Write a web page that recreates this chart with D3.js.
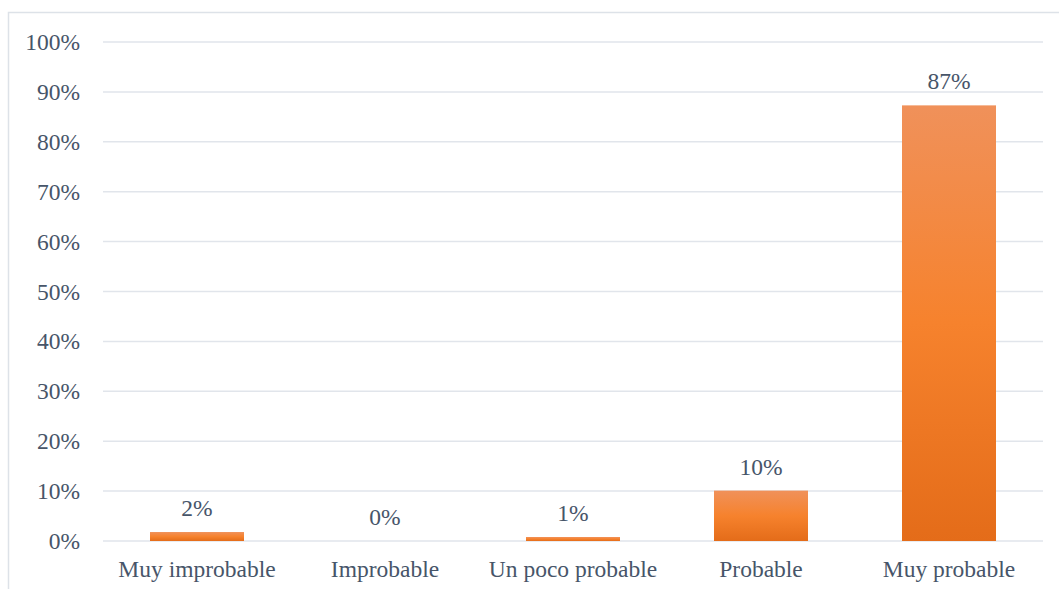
<!DOCTYPE html>
<html><head><meta charset="utf-8">
<script src="https://cdn.jsdelivr.net/npm/d3@7"></script>
<style>body{margin:0;background:#fff;}svg{display:block;}</style>
</head><body>
<svg id="chart" width="1059" height="589"></svg>
<script>
const categories = ["Muy improbable","Improbable","Un poco probable","Probable","Muy probable"];
const values = [1.8, 0, 0.8, 10.1, 87.3];
const yTicks = [0,10,20,30,40,50,60,70,80,90,100];

const svg = d3.select("#chart");
const W = 1059, H = 589;
const m = {left:103, right:16, top:42, bottom:48};
const textColor = "#475569";
const font = "'Liberation Serif', 'Times New Roman', serif";
const fs = 23.5;

// frame
svg.append("rect").attr("x",8.5).attr("y",12.5).attr("width",W+10).attr("height",H+10)
  .attr("fill","none").attr("stroke","#dde2e8").attr("stroke-width",1.5);

const x = d3.scaleBand().domain(categories).range([m.left, W-m.right]).paddingInner(0.5).paddingOuter(0.25);
const y = d3.scaleLinear().domain([0,100]).range([H-m.bottom, m.top]);

const defs = svg.append("defs");
const g = defs.append("linearGradient").attr("id","barGrad").attr("x1",0).attr("y1",0).attr("x2",0).attr("y2",1);
g.append("stop").attr("offset","0%").attr("stop-color","#f0915a");
g.append("stop").attr("offset","50%").attr("stop-color","#f6822d");
g.append("stop").attr("offset","100%").attr("stop-color","#e46c19");

// gridlines
svg.append("g").selectAll("line").data(yTicks).join("line")
  .attr("x1",m.left).attr("x2",W-m.right)
  .attr("y1",d=>y(d)).attr("y2",d=>y(d))
  .attr("stroke","#e1e5eb").attr("stroke-width",1.5);

// y axis labels
const yAxis = d3.axisLeft(y).tickValues(yTicks).tickFormat(d=>d+"%").tickSize(0).tickPadding(23);
const ya = svg.append("g").attr("transform",`translate(${m.left},0)`).call(yAxis);
ya.select(".domain").remove();
ya.selectAll("text").attr("font-family",font).attr("font-size",fs).attr("fill",textColor).attr("dy","0.32em");

// bars
svg.append("g").selectAll("rect").data(values).join("rect")
  .attr("x",(d,i)=>x(categories[i]))
  .attr("width",x.bandwidth())
  .attr("y",d=>y(d))
  .attr("height",d=>y(0)-y(d))
  .attr("fill","url(#barGrad)");

// value labels
svg.append("g").selectAll("text").data(values).join("text")
  .attr("x",(d,i)=>x(categories[i])+x.bandwidth()/2)
  .attr("y",d=>y(d)-16)
  .attr("text-anchor","middle")
  .attr("font-family",font).attr("font-size",fs).attr("fill",textColor)
  .text(d=>Math.round(d)+"%");

// x axis labels
const xAxis = d3.axisBottom(x).tickSize(0).tickPadding(19);
const xa = svg.append("g").attr("transform",`translate(0,${y(0)})`).call(xAxis);
xa.select(".domain").remove();
xa.selectAll("text").attr("font-family",font).attr("font-size",fs).attr("fill",textColor).attr("dy","0.71em");
</script>
</body></html>
